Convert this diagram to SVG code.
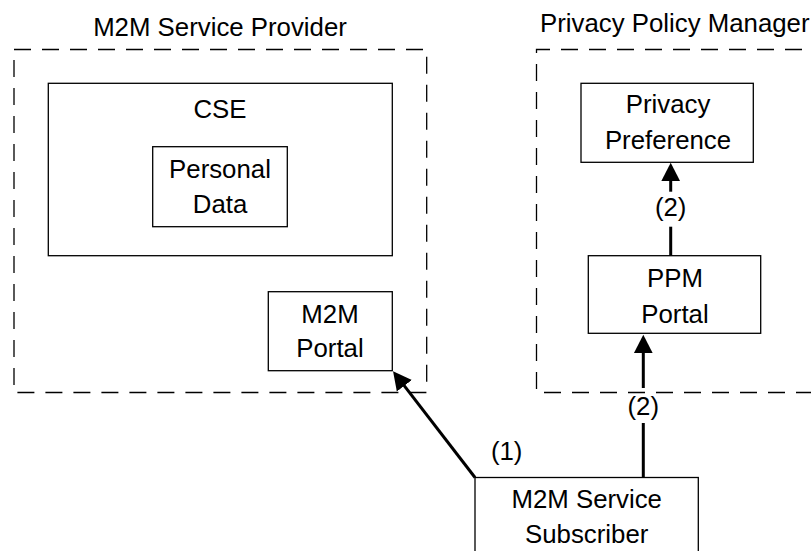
<svg xmlns="http://www.w3.org/2000/svg" width="811" height="551" viewBox="0 0 811 551">
<defs>
<style>
.bg{fill:#ffffff}
.box{fill:#ffffff;stroke:#000;stroke-width:1.3}
.dash{fill:none;stroke:#000;stroke-width:1.3;stroke-dasharray:17 11}
text{font-family:"Liberation Sans",Arial,sans-serif;font-size:25.8px;fill:#000}
.c{text-anchor:middle}
.conn{stroke:#000;stroke-width:3;fill:none}
</style>
<marker id="ah" markerUnits="userSpaceOnUse" markerWidth="19" markerHeight="20" viewBox="0 0 19 20" refX="14.5" refY="10" orient="auto">
<path d="M0,0.5 L18.5,10 L0,19.5 z" fill="#000"/>
</marker>
</defs>
<rect class="bg" x="0" y="0" width="811" height="551"/>
<g id="m2m-service-provider">
<rect class="dash" x="14" y="49.5" width="412.7" height="343"/>
<text class="c" x="220" y="36">M2M Service Provider</text>
</g>
<g id="cse">
<rect class="box" x="48.3" y="83.3" width="344" height="172.4"/>
<text class="c" x="220" y="118">CSE</text>
</g>
<g id="personal-data">
<rect class="box" x="152.7" y="146.7" width="134.6" height="80"/>
<text class="c" x="220" y="178.3">Personal</text>
<text class="c" x="220" y="213.3">Data</text>
</g>
<g id="m2m-portal">
<rect class="box" x="268.3" y="291.7" width="124" height="79"/>
<text class="c" x="330" y="322.7">M2M</text>
<text class="c" x="330" y="357.3">Portal</text>
</g>
<g id="privacy-policy-manager">
<path class="dash" d="M830,49.5 H536.5 V392.5 H830"/>
<text x="540" y="32">Privacy Policy Manager</text>
</g>
<g id="privacy-preference">
<rect class="box" x="581" y="83.3" width="172.3" height="79"/>
<text class="c" x="668" y="113.3">Privacy</text>
<text class="c" x="668" y="149">Preference</text>
</g>
<g id="ppm-portal">
<rect class="box" x="588.3" y="255.7" width="172.4" height="77.6"/>
<text class="c" x="675" y="287.3">PPM</text>
<text class="c" x="675" y="322.7">Portal</text>
</g>
<g id="m2m-service-subscriber">
<rect class="box" x="475" y="477.5" width="223.3" height="90"/>
<text class="c" x="586.7" y="508.3">M2M Service</text>
<text class="c" x="586.7" y="543.3">Subscriber</text>
</g>
<g id="connectors">
<line class="conn" x1="475" y1="477.5" x2="395.5" y2="374.3" marker-end="url(#ah)"/>
<text class="c" x="506.7" y="460">(1)</text>
<line class="conn" x1="643.3" y1="477.5" x2="643.3" y2="423"/>
<line class="conn" x1="643.3" y1="388" x2="643.3" y2="338.8" marker-end="url(#ah)"/>
<text class="c" x="643.3" y="415">(2)</text>
<line class="conn" x1="670.7" y1="255.7" x2="670.7" y2="226.7"/>
<line class="conn" x1="670.7" y1="191.7" x2="670.7" y2="166.8" marker-end="url(#ah)"/>
<text class="c" x="670.7" y="216">(2)</text>
</g>
</svg>
